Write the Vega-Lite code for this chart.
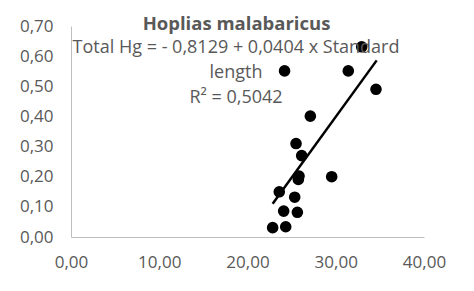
{
  "$schema": "https://vega.github.io/schema/vega-lite/v6.json",
  "autosize": "none",
  "width": 353,
  "height": 211,
  "padding": {"left": 71, "top": 26, "right": 50, "bottom": 54},
  "background": "white",
  "title": {
    "text": "Hoplias malabaricus",
    "anchor": "middle",
    "frame": "group",
    "dx": -11,
    "dy": 25,
    "offset": -6,
    "baseline": "alphabetic",
    "font": "Open Sans",
    "fontSize": 18.5,
    "fontWeight": "bold",
    "color": "#595959"
  },
  "datasets": {
    "points": [
      {"length": 22.85, "hg": 0.031},
      {"length": 24.33, "hg": 0.034},
      {"length": 24.1, "hg": 0.086},
      {"length": 25.65, "hg": 0.082},
      {"length": 25.35, "hg": 0.132},
      {"length": 23.6, "hg": 0.15},
      {"length": 25.76, "hg": 0.191},
      {"length": 25.84, "hg": 0.202},
      {"length": 29.54, "hg": 0.2},
      {"length": 26.14, "hg": 0.27},
      {"length": 25.5, "hg": 0.31},
      {"length": 27.12, "hg": 0.401},
      {"length": 34.56, "hg": 0.49},
      {"length": 24.2, "hg": 0.551},
      {"length": 31.42, "hg": 0.551},
      {"length": 32.94, "hg": 0.631}
    ],
    "trend": [
      {"length": 22.85, "hg": 0.110},
      {"length": 34.64, "hg": 0.586}
    ],
    "labels": [
      {"length": 18.7, "hg": 0.627, "text": "Total Hg = - 0,8129 + 0,0404 x Standard"},
      {"length": 18.7, "hg": 0.544, "text": "length"},
      {"length": 18.7, "hg": 0.461, "text": "R² = 0,5042"}
    ]
  },
  "layer": [
    {
      "data": {"name": "points"},
      "mark": {"type": "point", "filled": true, "color": "black", "opacity": 1, "size": 135},
      "encoding": {
        "x": {
          "field": "length", "type": "quantitative",
          "scale": {"domain": [0, 40], "nice": false, "zero": true},
          "axis": {
            "title": null, "grid": false, "ticks": false,
            "values": [0, 10, 20, 30, 40],
            "labelExpr": "replace(format(datum.value, '.2f'), '.', ',')",
            "domainColor": "#bfbfbf", "domainWidth": 1,
            "labelFont": "Open Sans", "labelFontSize": 17, "labelColor": "#595959",
            "labelPadding": 17, "labelFlush": false, "labelOverlap": false, "labelBound": false
          }
        },
        "y": {
          "field": "hg", "type": "quantitative",
          "scale": {"domain": [0, 0.7], "nice": false},
          "axis": {
            "title": null, "grid": false, "ticks": false,
            "tickCount": 7,
            "labelExpr": "replace(format(datum.value, '.2f'), '.', ',')",
            "domainColor": "#bfbfbf", "domainWidth": 1,
            "labelFont": "Open Sans", "labelFontSize": 17, "labelColor": "#595959",
            "labelPadding": 18, "labelFlush": false, "labelOverlap": false, "labelBound": false
          }
        }
      }
    },
    {
      "data": {"name": "trend"},
      "mark": {"type": "line", "color": "black", "strokeWidth": 2.5},
      "encoding": {
        "x": {"field": "length", "type": "quantitative"},
        "y": {"field": "hg", "type": "quantitative"}
      }
    },
    {
      "data": {"name": "labels"},
      "mark": {"type": "text", "font": "Open Sans", "fontSize": 18, "color": "#595959", "align": "center", "baseline": "middle"},
      "encoding": {
        "x": {"field": "length", "type": "quantitative"},
        "y": {"field": "hg", "type": "quantitative"},
        "text": {"field": "text"}
      }
    }
  ],
  "config": {"view": {"stroke": null}, "axis": {"labelOverlap": false}}
}
